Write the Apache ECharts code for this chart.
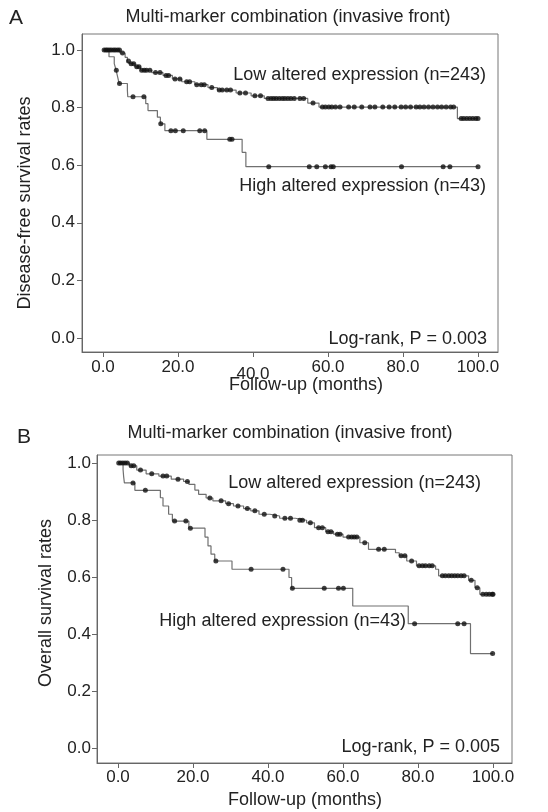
<!DOCTYPE html>
<html><head><meta charset="utf-8">
<script src="https://cdn.jsdelivr.net/npm/echarts@6/dist/echarts.min.js"></script>
<style>html,body{margin:0;padding:0;background:#fff}#c{width:548px;height:812px}</style>
</head><body><div id="c"></div>
<script>
// ---------- data ----------
const xTicks = [0, 20, 40, 60, 80, 100];
const yTicks = [0, 0.2, 0.4, 0.6, 0.8, 1.0];
const followUpEnd = 100;

// Panel A: disease-free survival, [month, survival after event]
const dfsLowSteps = [[0,1.0],[4.5,0.99],[5.9,0.975],[6.5,0.962],[7.0,0.953],[8.5,0.942],[10.0,0.93],[13.0,0.922],[16.0,0.912],[18.5,0.9],[21.0,0.89],[24.5,0.88],[28.0,0.87],[30.5,0.861],[35.5,0.851],[39.5,0.841],[43.0,0.832],[54.6,0.816],[57.6,0.802],[94.5,0.762]];
const dfsLowCensor = [0.3,0.8,1.2,1.7,2.2,2.8,3.3,3.9,4.4,5.2,6.8,7.5,8.2,9.0,9.6,10.3,11.0,11.6,12.5,14.0,15.2,16.8,17.5,19.2,20.5,22.3,23.1,25.0,26.2,27.0,29.0,31.0,31.8,33.0,34.0,36.5,38.0,40.5,42.0,44.0,44.8,45.5,46.2,47.0,47.8,48.5,49.3,50.1,51.0,52.5,53.5,56.0,58.5,59.3,60.2,61.0,62.0,63.2,65.5,67.0,69.0,71.2,72.5,74.6,76.3,77.8,79.5,80.7,82.0,83.5,84.5,85.6,86.8,88.0,89.2,90.3,91.5,92.7,93.5,95.5,96.2,97.0,97.8,98.6,99.4,100.0];
const dfsHighSteps = [[0,1.0],[1.6,0.977],[3.0,0.953],[3.5,0.93],[3.9,0.907],[4.3,0.884],[6.5,0.861],[6.6,0.838],[11.4,0.814],[12.0,0.79],[14.5,0.767],[15.3,0.744],[16.5,0.72],[27.7,0.69],[37.1,0.645],[38.1,0.595]];
const dfsHighCensor = [3.55,4.4,8.0,10.9,15.4,18.1,19.3,21.4,25.8,27.1,33.8,34.4,44.2,55.0,57.0,59.3,60.8,61.4,79.6,90.7,92.5,100.0];

// Panel B: overall survival
const osLowSteps = [[0,1.0],[3.0,0.99],[5.0,0.975],[7.5,0.962],[10.9,0.954],[14.2,0.943],[17.5,0.935],[18.9,0.925],[20.5,0.905],[21.5,0.89],[23.5,0.877],[25.3,0.867],[28.7,0.857],[30.8,0.849],[33.5,0.84],[35.4,0.832],[37.6,0.82],[40.5,0.814],[43.1,0.806],[47.3,0.799],[50.3,0.79],[52.4,0.773],[55.4,0.759],[57.5,0.75],[60.0,0.74],[64.5,0.72],[66.8,0.697],[74.0,0.685],[75.0,0.674],[77.0,0.656],[79.6,0.639],[84.7,0.627],[85.5,0.604],[93.5,0.588],[95.2,0.562],[96.5,0.539]];
const osLowCensor = [0.2,0.7,1.3,1.9,2.5,3.5,4.2,6.0,9.0,12.0,13.0,16.0,18.5,24.5,27.5,29.5,32.0,34.5,36.5,39.0,41.8,44.5,46.0,48.5,49.2,51.3,53.5,54.5,56.0,56.8,58.5,59.2,61.5,62.3,63.0,63.7,65.8,69.5,71.0,75.5,76.5,78.3,80.3,81.2,82.0,83.0,83.8,86.5,87.3,88.2,89.0,89.8,90.6,91.5,92.3,94.2,95.8,97.3,98.2,99.0,99.8,100.0];
const osHighSteps = [[0,1.0],[1.35,0.977],[1.5,0.953],[1.7,0.93],[4.5,0.904],[11.3,0.878],[12.0,0.849],[13.5,0.82],[14.5,0.796],[18.9,0.771],[23.2,0.74],[24.0,0.709],[24.8,0.68],[25.8,0.656],[30.4,0.627],[45.6,0.598],[46.3,0.56],[62.6,0.498],[77.4,0.436],[94.0,0.331]];
const osHighCensor = [4.0,7.3,15.1,18.1,19.3,26.1,35.5,44.0,46.5,55.0,58.8,60.1,79.1,90.6,92.3,99.9];

const titleText = 'Multi-marker combination (invasive front)';
const xName = 'Follow-up (months)';
const yNameA = 'Disease-free survival rates';
const yNameB = 'Overall survival rates';
const lowLabel = 'Low altered expression (n=243)';
const highLabel = 'High altered expression (n=43)';
const pA = 'Log-rank, P = 0.003';
const pB = 'Log-rank, P = 0.005';

// ---------- helpers ----------
function survAt(steps, t) {
  let s = steps[0][1];
  for (const [x, y] of steps) { if (x <= t) s = y; else break; }
  return s;
}
function lineData(steps) { return steps.concat([[followUpEnd, steps[steps.length - 1][1]]]); }
function censorData(steps, cens) { return cens.map(t => [t, survAt(steps, t)]); }

const FONT = "'Liberation Sans', Arial, sans-serif";
const TXT = '#222';
const AX = '#666';

function xAxisCfg(gi, min, max, margin) {
  return {
    gridIndex: gi, type: 'value', min: min, max: max,
    axisLine: { show: true, onZero: false, lineStyle: { color: AX, width: 1 } },
    axisTick: { show: true, length: 5, customValues: xTicks, lineStyle: { color: AX } },
    splitLine: { show: false },
    axisLabel: {
      customValues: xTicks, margin: margin, color: TXT, fontSize: 17, fontFamily: FONT,
      formatter: v => (gi === 0 && v === 40) ? '{low|' + v.toFixed(1) + '}' : v.toFixed(1),
      rich: { low: { padding: [7, 0, 0, 0], fontSize: 17, fontFamily: FONT, color: TXT } }
    }
  };
}
function yAxisCfg(gi, min, max, margin) {
  return {
    gridIndex: gi, type: 'value', min: min, max: max,
    axisLine: { show: true, onZero: false, lineStyle: { color: AX, width: 1 } },
    axisTick: { show: true, length: 5, customValues: yTicks, lineStyle: { color: AX } },
    splitLine: { show: false },
    axisLabel: { customValues: yTicks, margin: margin, color: TXT, fontSize: 17, fontFamily: FONT, formatter: v => v.toFixed(1) }
  };
}
function curve(gi, steps, cens) {
  return [
    { type: 'line', xAxisIndex: gi, yAxisIndex: gi, step: 'end', data: lineData(steps), showSymbol: false,
      lineStyle: { color: '#707070', width: 1.2 }, silent: true, animation: false, z: 2 },
    { type: 'scatter', xAxisIndex: gi, yAxisIndex: gi, data: censorData(steps, cens), symbol: 'circle', symbolSize: 5,
      itemStyle: { color: '#111' }, silent: true, animation: false, z: 3 }
  ];
}
function txt(x, y, text, align, size, rot) {
  return { type: 'text', x: x, y: y, rotation: rot || 0,
    style: { text: text, fill: TXT, font: (size || 18) + 'px ' + FONT, align: align || 'center', verticalAlign: 'middle' } };
}

const chart = echarts.init(document.getElementById('c'), null, { renderer: 'canvas' });
chart.setOption({
  backgroundColor: '#fff',
  animation: false,
  grid: [
    { left: 82, top: 34, width: 416, height: 318, show: true, borderColor: '#777', borderWidth: 1, backgroundColor: 'transparent' },
    { left: 97, top: 455, width: 415, height: 308, show: true, borderColor: '#777', borderWidth: 1, backgroundColor: 'transparent' }
  ],
  xAxis: [xAxisCfg(0, -5.6, 105.33, 7), xAxisCfg(1, -5.6, 105.07, 6)],
  yAxis: [yAxisCfg(0, -0.049, 1.056, 7), yAxisCfg(1, -0.053, 1.028, 6)],
  series: [].concat(
    curve(0, dfsLowSteps, dfsLowCensor), curve(0, dfsHighSteps, dfsHighCensor),
    curve(1, osLowSteps, osLowCensor), curve(1, osHighSteps, osHighCensor)
  ),
  graphic: [
    txt(16, 18, 'A', 'center', 21),
    txt(288, 17, titleText, 'center', 18),
    txt(486, 75, lowLabel, 'right', 18),
    txt(486, 186, highLabel, 'right', 18),
    txt(487, 339, pA, 'right', 18),
    txt(306, 385, xName, 'center', 18),
    txt(25, 203, yNameA, 'center', 18, Math.PI / 2),
    txt(24, 437, 'B', 'center', 21),
    txt(290, 433, titleText, 'center', 18),
    txt(481, 483, lowLabel, 'right', 18),
    txt(406, 621, highLabel, 'right', 18),
    txt(500, 747, pB, 'right', 18),
    txt(305, 800, xName, 'center', 18),
    txt(46, 603, yNameB, 'center', 18, Math.PI / 2)
  ]
});
</script></body></html>
